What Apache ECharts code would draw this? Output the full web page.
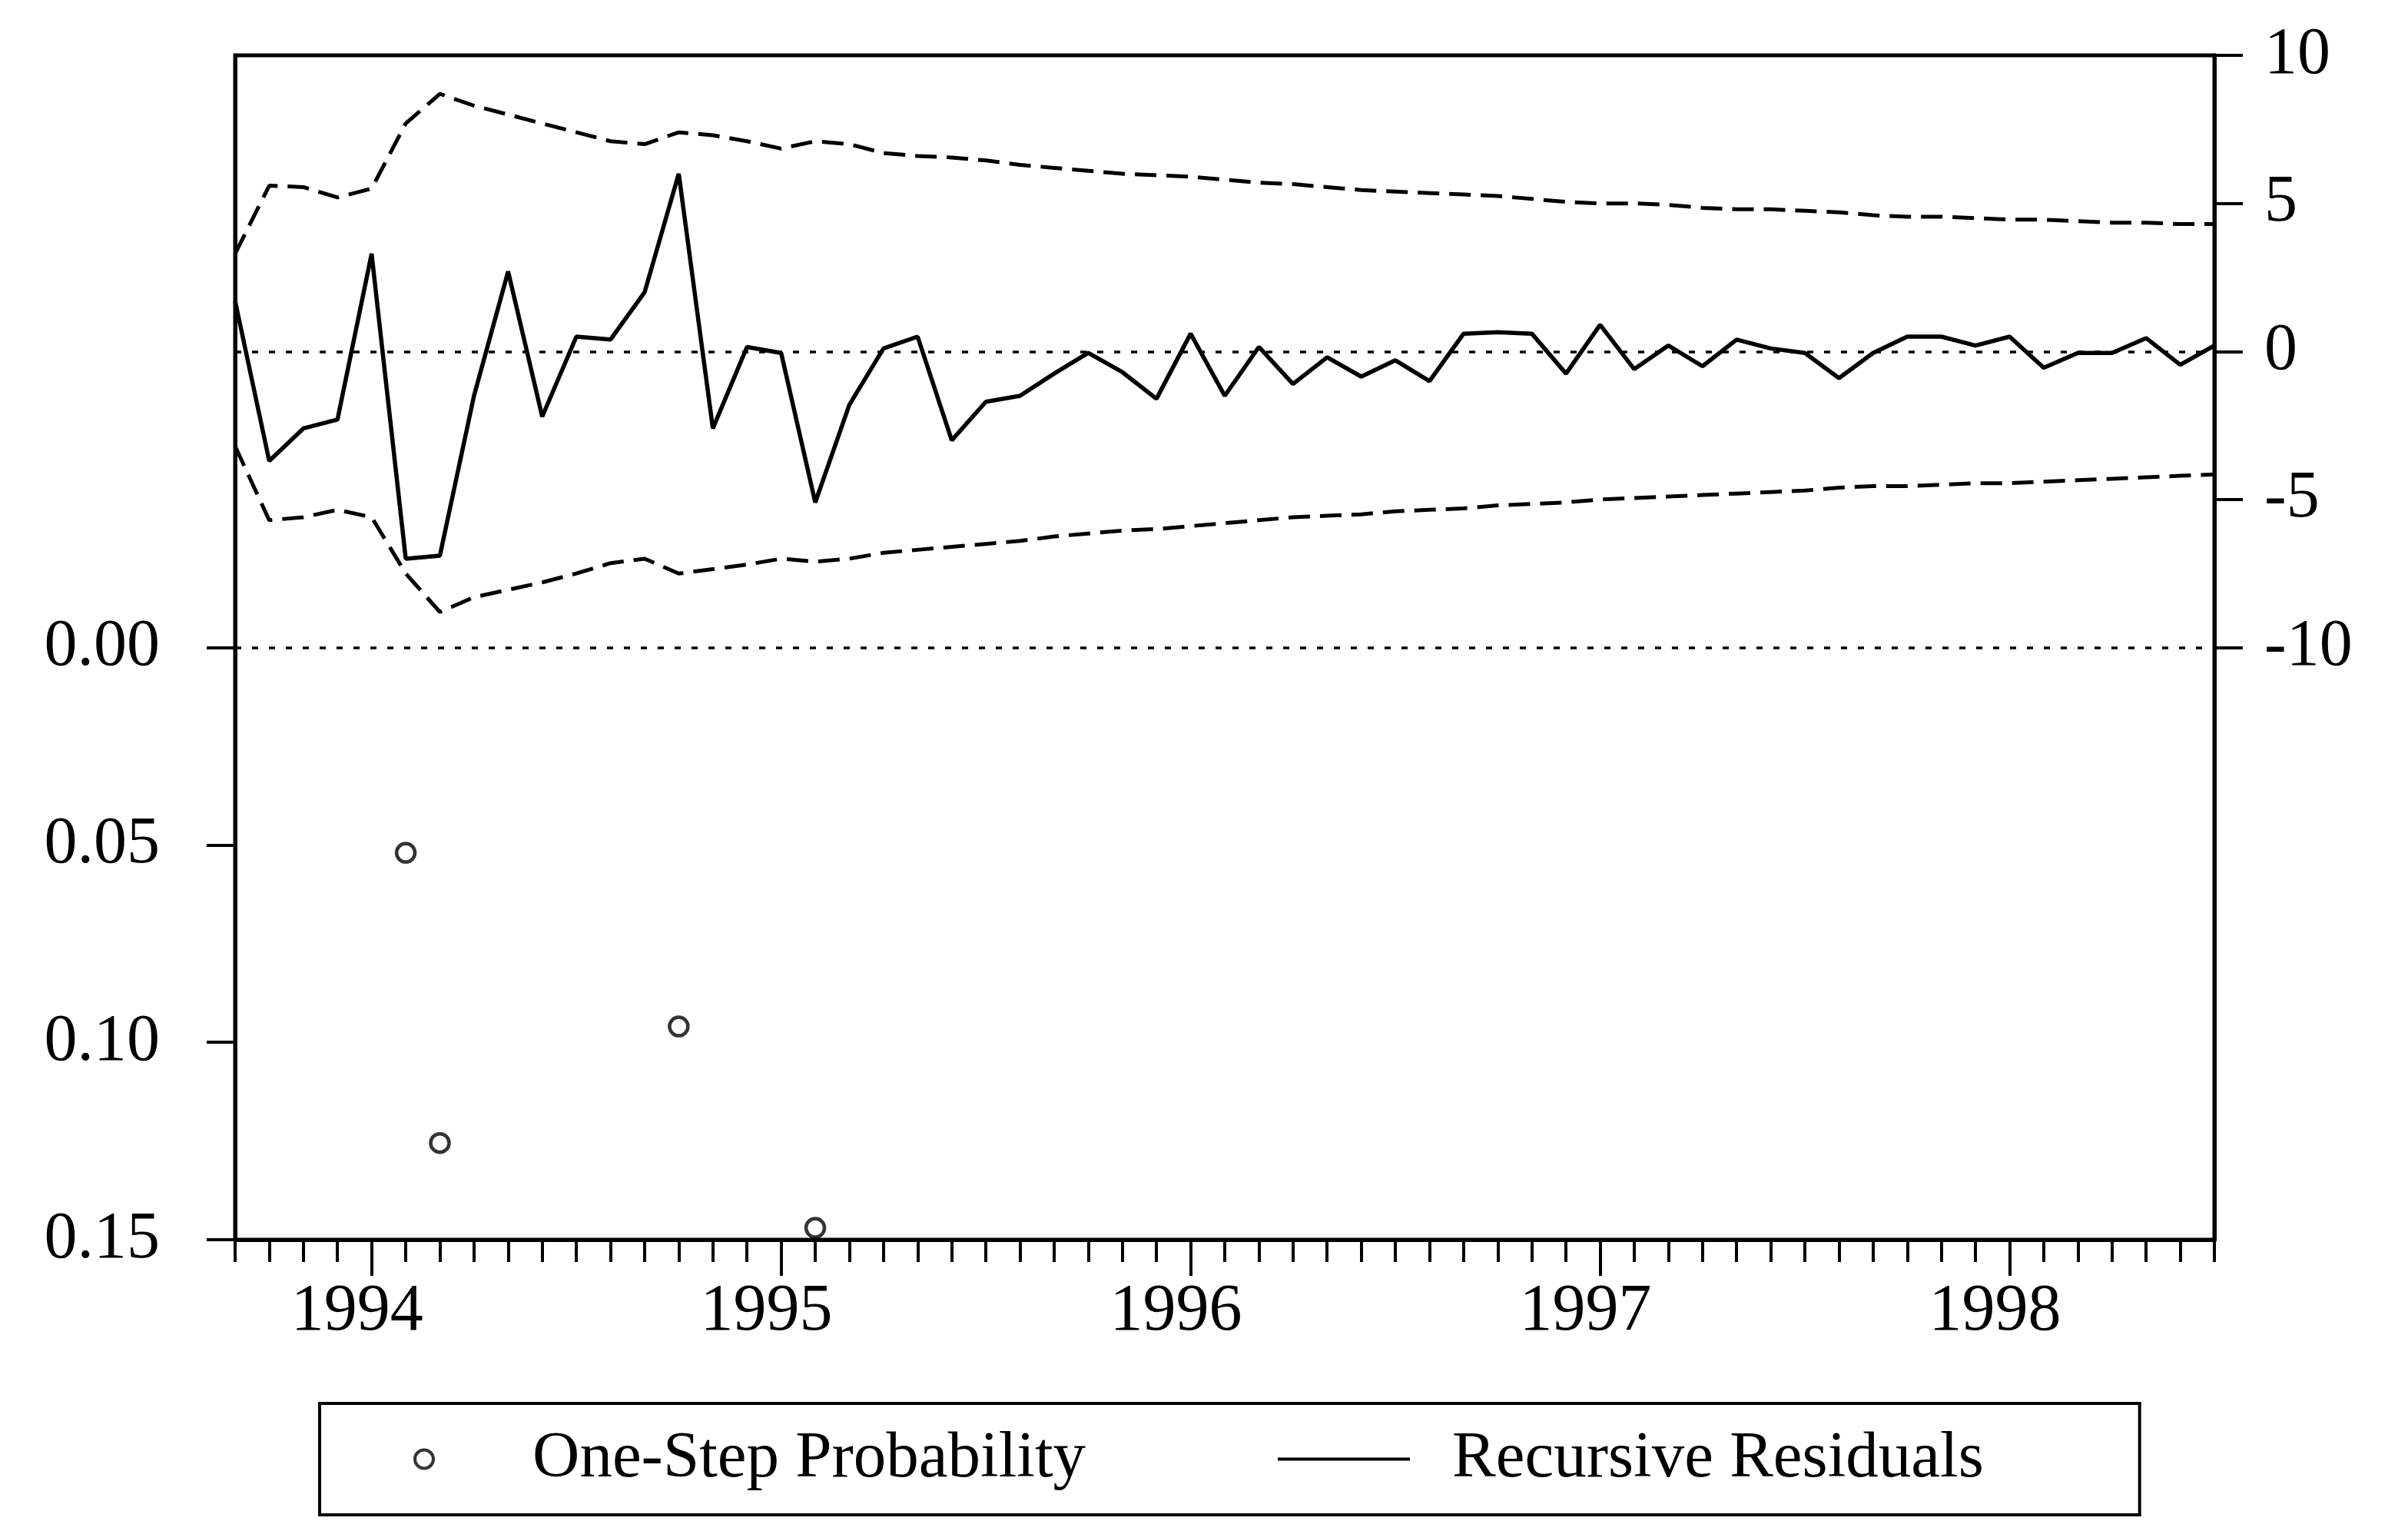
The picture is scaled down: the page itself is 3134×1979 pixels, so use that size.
<!DOCTYPE html>
<html>
<head>
<meta charset="utf-8">
<script src="https://cdn.jsdelivr.net/npm/echarts@6/dist/echarts.min.js"></script>
<style>
  html, body { margin: 0; padding: 0; background: #fff; }
  #chart { width: 3134px; height: 1979px; }
</style>
</head>
<body>
<div id="chart"></div>
<script>
// monthly sample 1993M09 - 1998M07
var months = [
  '1993M09','1993M10','1993M11','1993M12',
  '1994M01','1994M02','1994M03','1994M04','1994M05','1994M06','1994M07','1994M08','1994M09','1994M10','1994M11','1994M12',
  '1995M01','1995M02','1995M03','1995M04','1995M05','1995M06','1995M07','1995M08','1995M09','1995M10','1995M11','1995M12',
  '1996M01','1996M02','1996M03','1996M04','1996M05','1996M06','1996M07','1996M08','1996M09','1996M10','1996M11','1996M12',
  '1997M01','1997M02','1997M03','1997M04','1997M05','1997M06','1997M07','1997M08','1997M09','1997M10','1997M11','1997M12',
  '1998M01','1998M02','1998M03','1998M04','1998M05','1998M06','1998M07'
];

// recursive residuals (right axis)
var residuals = [
  1.7, -3.7, -2.6, -2.3,
  3.3, -7.0, -6.9, -1.5, 2.7, -2.2, 0.5, 0.4, 2.0, 6.0, -2.6, 0.15,
  -0.05, -5.1, -1.8, 0.1, 0.5, -3.0, -1.7, -1.5, -0.75, -0.05, -0.7, -1.6,
  0.6, -1.5, 0.15, -1.1, -0.2, -0.85, -0.3, -1.0, 0.6, 0.65, 0.6, -0.75,
  0.9, -0.6, 0.2, -0.5, 0.4, 0.1, -0.05, -0.9, -0.05, 0.5, 0.5, 0.2,
  0.5, -0.55, -0.05, -0.05, 0.45, -0.45, 0.2
];

// +/- 2 S.E. bands
var upperBand = [
  3.3, 5.6, 5.55, 5.2,
  5.5, 7.7, 8.7, 8.3, 8.0, 7.7, 7.4, 7.1, 7.0, 7.4, 7.3, 7.1,
  6.85, 7.1, 7.0, 6.7, 6.6, 6.55, 6.45, 6.3, 6.2, 6.1, 6.0, 5.95,
  5.9, 5.8, 5.7, 5.65, 5.55, 5.45, 5.4, 5.35, 5.3, 5.25, 5.15, 5.05,
  5.0, 5.0, 4.95, 4.85, 4.8, 4.8, 4.75, 4.7, 4.6, 4.55, 4.55, 4.5,
  4.45, 4.45, 4.4, 4.35, 4.35, 4.3, 4.3
];
var lowerBand = [
  -3.2, -5.7, -5.6, -5.35,
  -5.6, -7.5, -8.8, -8.3, -8.05, -7.8, -7.5, -7.15, -7.0, -7.5, -7.35, -7.2,
  -7.0, -7.1, -7.0, -6.8, -6.7, -6.6, -6.5, -6.4, -6.25, -6.15, -6.05, -6.0,
  -5.9, -5.8, -5.7, -5.6, -5.55, -5.5, -5.4, -5.35, -5.3, -5.2, -5.15, -5.1,
  -5.0, -4.95, -4.9, -4.85, -4.8, -4.75, -4.7, -4.6, -4.55, -4.55, -4.5, -4.45,
  -4.45, -4.4, -4.35, -4.3, -4.25, -4.2, -4.15
];

// one-step probabilities, only those below 0.15 are visible
var probability = [
  null, null, null, null,
  null, 0.052, 0.1255, null, null, null, null, null, null, 0.096, null, null,
  null, 0.147, null, null, null, null, null, null, null, null, null, null,
  null, null, null, null, null, null, null, null, null, null, null, null,
  null, null, null, null, null, null, null, null, null, null, null, null,
  null, null, null, null, null, null, null
];

var probTicks = [0, 0.05, 0.10, 0.15];
var residTicks = [-10, -5, 0, 5, 10];

var font = 'Liberation Serif';
var fsize = 86;

function isJan(idx, val) {
  return val.slice(4) === 'M01';
}

var zeroLine = {
  silent: true,
  symbol: 'none',
  label: { show: false },
  lineStyle: { color: '#000', width: 3.5, type: [8, 14] },
  data: [{ yAxis: 0 }]
};

var option = {
  backgroundColor: '#fff',
  animation: false,
  textStyle: { fontFamily: font, color: '#000' },
  grid: [
    { left: 306, right: 252, top: 72, bottom: 366, show: true, borderColor: '#000', borderWidth: 5, backgroundColor: 'transparent', outerBoundsMode: 'none' },
    { left: 306, right: 252, top: 72, bottom: 366, show: false, outerBoundsMode: 'none' }
  ],
  legend: {
    left: 416,
    top: 1826,
    data: [
      { name: 'One-Step Probability', icon: 'circle', itemStyle: { color: '#fff', borderColor: '#000', borderWidth: 4 } },
      { name: 'Recursive Residuals', icon: 'path://M0,0L172,0L172,4L0,4Z', itemStyle: { color: '#000', borderWidth: 0 } }
    ],
    itemWidth: 172,
    itemHeight: 24,
    itemGap: 250,
    padding: [30, 203, 30, 122],
    borderColor: '#000',
    borderWidth: 4,
    borderRadius: 0,
    textStyle: { fontFamily: font, fontSize: 85, color: '#000', padding: [0, 0, 0, 50] }
  },
  xAxis: [
    {
      type: 'category',
      gridIndex: 0,
      data: months,
      boundaryGap: false,
      axisLine: { show: true, onZero: false, lineStyle: { color: '#000', width: 5 } },
      axisTick: { show: true, interval: 0, length: 29, lineStyle: { color: '#000', width: 4 } },
      axisLabel: { show: false },
      splitLine: { show: false }
    },
    {
      type: 'category',
      gridIndex: 1,
      data: months,
      boundaryGap: false,
      axisLine: { show: false, onZero: false },
      axisTick: { show: true, interval: isJan, length: 47, lineStyle: { color: '#000', width: 4 } },
      axisLabel: {
        show: true,
        interval: isJan,
        margin: 51,
        padding: [0, 38, 0, 0],
        fontFamily: font,
        fontSize: fsize,
        color: '#000',
        formatter: function (v) { return v.slice(0, 4); }
      },
      splitLine: { show: false }
    }
  ],
  yAxis: [
    {
      type: 'value',
      gridIndex: 0,
      position: 'left',
      inverse: true,
      min: -0.15,
      max: 0.15,
      axisLine: { show: true, onZero: false, lineStyle: { color: '#000', width: 5 } },
      axisTick: { show: true, customValues: probTicks, length: 37, lineStyle: { color: '#000', width: 4 } },
      axisLabel: {
        customValues: probTicks,
        margin: 98,
        fontFamily: font,
        fontSize: fsize,
        color: '#000',
        formatter: function (v) { return v.toFixed(2); }
      },
      splitLine: { show: false }
    },
    {
      type: 'value',
      gridIndex: 0,
      position: 'right',
      min: -30,
      max: 10,
      axisLine: { show: true, onZero: false, lineStyle: { color: '#000', width: 5 } },
      axisTick: { show: true, customValues: residTicks, length: 37, lineStyle: { color: '#000', width: 4 } },
      axisLabel: {
        customValues: residTicks,
        margin: 65,
        fontFamily: font,
        fontSize: fsize,
        color: '#000',
        formatter: function (v) { return String(v); }
      },
      splitLine: { show: false }
    },
    {
      type: 'value',
      gridIndex: 1,
      show: false,
      min: 0,
      max: 1
    }
  ],
  series: [
    {
      name: 'One-Step Probability',
      type: 'scatter',
      xAxisIndex: 0,
      yAxisIndex: 0,
      data: probability,
      symbol: 'circle',
      symbolSize: 24,
      clip: false,
      itemStyle: { color: '#fff', borderColor: '#000', borderWidth: 4.5 },
      markLine: zeroLine,
      z: 5
    },
    {
      name: 'Recursive Residuals',
      type: 'line',
      xAxisIndex: 0,
      yAxisIndex: 1,
      data: residuals,
      symbol: 'none',
      lineStyle: { color: '#000', width: 5.5 },
      itemStyle: { color: '#000' },
      markLine: zeroLine,
      z: 4
    },
    {
      name: 'Upper',
      type: 'line',
      xAxisIndex: 0,
      yAxisIndex: 1,
      data: upperBand,
      symbol: 'none',
      lineStyle: { color: '#000', width: 5, type: [28, 13] },
      z: 3
    },
    {
      name: 'Lower',
      type: 'line',
      xAxisIndex: 0,
      yAxisIndex: 1,
      data: lowerBand,
      symbol: 'none',
      lineStyle: { color: '#000', width: 5, type: [28, 13] },
      z: 3
    }
  ]
};

var chart = echarts.init(document.getElementById('chart'));
chart.setOption(option);
</script>
</body>
</html>
